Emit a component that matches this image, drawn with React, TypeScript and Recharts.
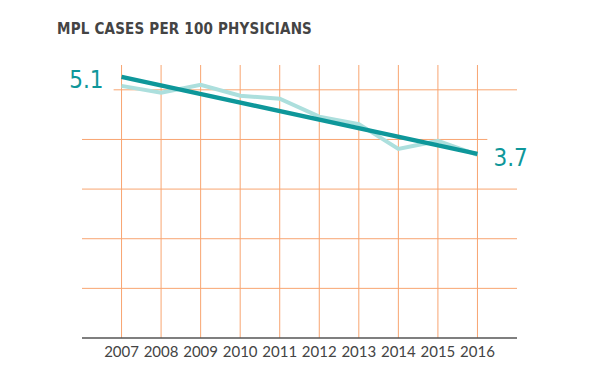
import { CartesianGrid, Line, LineChart, ReferenceLine, XAxis, YAxis } from "recharts";

const years = [2007, 2008, 2009, 2010, 2011, 2012, 2013, 2014, 2015, 2016];
const casesPer100 = [5.08, 4.94, 5.1, 4.88, 4.82, 4.46, 4.31, 3.81, 3.97, 3.69];
const trendValues = [5.26, null, null, null, null, null, null, null, null, 3.71];
const trendLabels = ["5.1", "", "", "", "", "", "", "", "", "3.7"];
const gridValues = [1, 2, 3, 4, 5];

const data = years.map((year, i) => ({
  year,
  cases: casesPer100[i],
  trend: trendValues[i],
}));

const ORANGE = "#f8a571";
const DARK_TEAL = "#0e979a";
const LIGHT_TEAL = "#acdfdd";

const gridExtent: Record<number, [number, number]> = {
  5: [2006.8, 2017],
  4: [2006, 2016.25],
};

function TrendLabel(props: any) {
  const { x, y, index } = props;
  const text = trendLabels[index];
  if (!text) return null;
  const first = index === 0;
  return (
    <text
      x={first ? x - 18 : x + 16}
      y={y + (first ? 11 : 12)}
      textAnchor={first ? "end" : "start"}
      fill={DARK_TEAL}
      fontSize={24}
      fontFamily="DejaVu Sans Condensed"
    >
      {text}
    </text>
  );
}

export default function App() {
  return (
    <div style={{ position: "absolute", left: 0, top: 0, width: 600, height: 382, background: "#fff" }}>
      <div
        style={{
          position: "absolute",
          left: 57,
          top: 20,
          fontFamily: "DejaVu Sans Condensed",
          fontWeight: "bold",
          fontSize: 15,
          letterSpacing: 0.2,
          color: "#444",
        }}
      >
        MPL CASES PER 100 PHYSICIANS
      </div>
      <LineChart width={600} height={382} data={data} margin={{ top: 65, right: 83, bottom: 14, left: 82 }}>
        <CartesianGrid horizontal={false} stroke={ORANGE} strokeWidth={1} syncWithTicks />
        {gridValues.map((v) => {
          const ext = gridExtent[v] || [2006, 2017];
          return (
            <ReferenceLine
              key={v}
              segment={[
                { x: ext[0], y: v },
                { x: ext[1], y: v },
              ]}
              stroke={ORANGE}
              strokeWidth={1}
              ifOverflow="visible"
            />
          );
        })}
        <XAxis
          dataKey="year"
          type="number"
          domain={[2006, 2017]}
          ticks={years}
          tickLine={false}
          axisLine={{ stroke: "#555", strokeWidth: 1.5 }}
          height={30}
          tick={{ fill: "#444", fontSize: 15, fontFamily: "Lato" }}
        />
        <YAxis hide domain={[0, 5.5]} />
        <Line
          dataKey="cases"
          stroke={LIGHT_TEAL}
          strokeWidth={4}
          dot={false}
          isAnimationActive={false}
        />
        <Line
          dataKey="trend"
          stroke={DARK_TEAL}
          strokeWidth={4.5}
          dot={false}
          connectNulls
          label={<TrendLabel />}
          isAnimationActive={false}
        />
      </LineChart>
    </div>
  );
}
